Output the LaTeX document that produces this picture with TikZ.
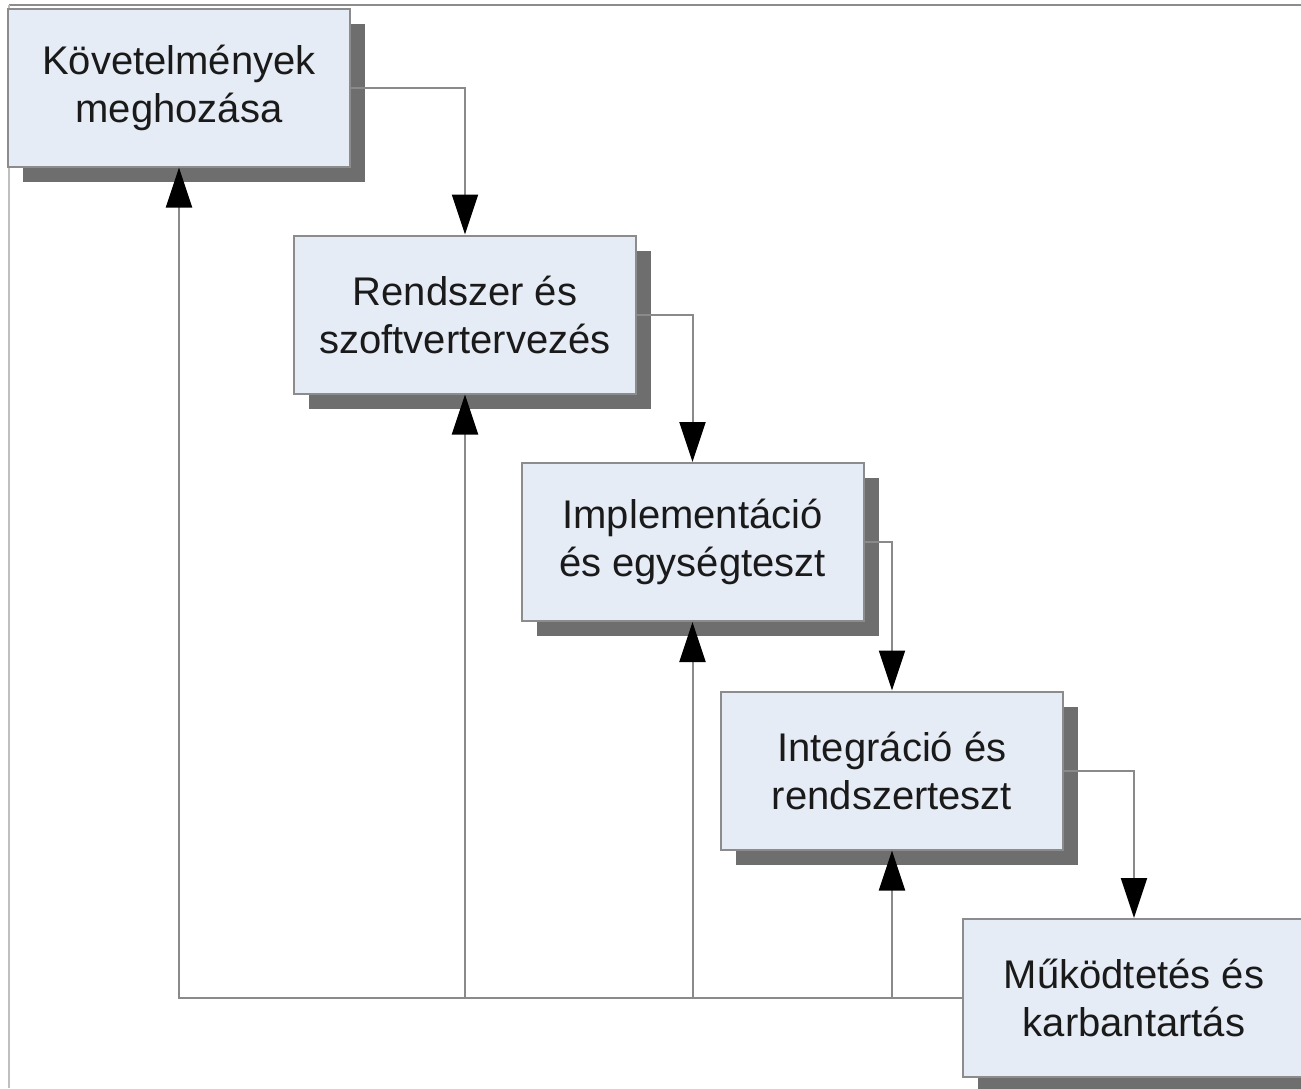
\documentclass[tikz,border=0pt]{standalone}
\usepackage{fontspec}
\setmainfont{Liberation Sans}
\usetikzlibrary{arrows.meta,shadows}
\definecolor{boxfill}{HTML}{E6ECF6}
\definecolor{boxline}{HTML}{8C8C8C}
\definecolor{shadowgray}{HTML}{6E6E6E}
\definecolor{wire}{HTML}{8A8A8A}
\definecolor{txt}{HTML}{1A1A1A}
\begin{document}
\begin{tikzpicture}[x=1pt,y=-1pt,
  phase/.style={draw=boxline, line width=2pt, fill=boxfill,
    minimum width=342pt, minimum height=158pt, inner sep=0pt,
    align=center, text=txt, font=\fontsize{40}{48}\selectfont,
    drop shadow={shadow xshift=15pt, shadow yshift=-15pt,
      fill=shadowgray, opacity=1}},
  flow/.style={draw=wire, line width=2pt,
    -{Triangle[length=40pt,width=26pt,color=black]}},
  wireline/.style={draw=wire, line width=2pt}]
  % page and its frame lines
  \fill[white] (0,0) rectangle (1301,1088);
  \useasboundingbox (0,0) rectangle (1301,1088);
  \draw[draw=black!45, line width=2pt] (1301,5) -- (9,5);
  \draw[draw=black!25, line width=2pt] (9,5) -- (9,1088);

  % phases of the waterfall
  \node[phase] (k1) at (179,87.5) {Követelmények\\meghozása};
  \node[phase] (k2) at (465,314.5) {Rendszer és\\szoftvertervezés};
  \node[phase] (k3) at (692.5,542) {Implementáció\\és egységteszt};
  \node[phase] (k4) at (892,770.5) {Integráció és\\rendszerteszt};
  \node[phase] (k5) at (1134,998) {Működtetés és\\karbantartás};

  % feedback paths along the bottom
  \coordinate (b2) at (k5.west -| k2.south);
  \coordinate (b3) at (k5.west -| k3.south);
  \coordinate (b4) at (k5.west -| k4.south);
  \draw[flow] (k5.west) -| (k1.south);
  \draw[flow] (b2) -- (k2.south);
  \draw[flow] (b3) -- (k3.south);
  \draw[flow] (b4) -- (k4.south);

  % forward steps
  \draw[flow] (k1.east) -| (k2.north);
  \draw[flow] (k2.east) -| (k3.north);
  \draw[flow] (k3.east) -| (k4.north);
  \draw[flow] (k4.east) -| (k5.north);
\end{tikzpicture}
\end{document}
